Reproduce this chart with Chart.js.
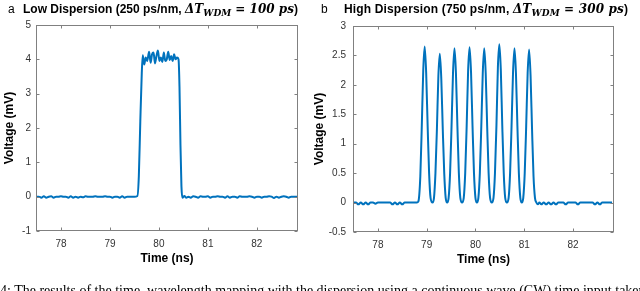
<!DOCTYPE html>
<html><head><meta charset="utf-8">
<script src="https://cdn.jsdelivr.net/npm/chart.js@4/dist/chart.umd.min.js"></script>
<style>
html,body{margin:0;padding:0;background:#fff;width:640px;height:291px;overflow:hidden;position:relative;}
canvas{position:absolute;top:0;}
.ttl{position:absolute;top:1px;white-space:nowrap;color:#000;font-family:"Liberation Sans",Arial,sans-serif;font-size:12px;line-height:16px;}
.ttl b{font-weight:bold;}
.ttl .m{font-family:"DejaVu Serif","Liberation Serif",serif;font-style:italic;font-weight:bold;font-size:12px;}
.ttl sub{font-size:9px;vertical-align:-3px;line-height:0;}
.cap{position:absolute;left:0;top:283px;white-space:nowrap;font-family:"Liberation Serif",serif;font-size:14px;color:#000;}
</style>
</head><body>
<canvas id="ca" width="320" height="291" style="left:0"></canvas>
<canvas id="cb" width="330" height="291" style="left:310px"></canvas>
<div class="ttl" style="left:8px"><span>a</span></div>
<div class="ttl" style="left:23px"><b>Low Dispersion (250 ps/nm, </b><span class="m">ΔT<sub>WDM</sub> = 100 ps</span><b>)</b></div>
<div class="ttl" style="left:321px"><span>b</span></div>
<div class="ttl" style="left:344px;letter-spacing:0.15px"><b>High Dispersion (750 ps/nm, </b><span class="m">ΔT<sub>WDM</sub> = 300 ps</span><b>)</b></div>
<div class="cap">4: The results of the time–wavelength mapping with the dispersion using a continuous wave (CW) time input taken at the different dispersion</div>
<script>
// ---- Panel a: Low dispersion ----
const timeA = [77.49,77.55,77.6,77.65,77.7,77.75,77.8,77.85,77.9,77.95,78.0,78.05,78.1,78.15,78.2,78.25,78.3,78.35,78.4,78.45,78.5,78.55,78.6,78.65,78.7,78.75,78.8,78.85,78.9,78.95,79.0,79.05,79.1,79.15,79.2,79.25,79.3,79.35,79.4,79.45,79.5,79.56,
 79.59,79.62,79.65,79.67,79.70,79.73,79.76,79.80,79.83,79.86,79.89,79.92,79.95,79.98,80.01,80.04,80.07,80.10,80.13,80.16,80.19,80.22,80.25,80.28,80.31,80.34,80.37,80.40,80.42,80.44,80.46,
 80.48,80.52,80.56,80.6,80.65,80.7,80.75,80.8,80.85,80.9,80.95,81.0,81.05,81.1,81.15,81.2,81.25,81.3,81.35,81.4,81.45,81.5,81.55,81.6,81.65,81.7,81.75,81.8,81.85,81.9,81.95,82.0,82.05,82.1,82.15,82.2,82.25,82.3,82.35,82.4,82.45,82.5,82.55,82.6,82.65,82.7,82.75,82.84];
const voltA = [0,0,-0.03,0.01,-0.03,0,0.01,-0.03,0,0,0.01,0,0,-0.03,0.01,-0.03,0,-0.03,0,-0.02,0.01,0,0,0,0.01,0,0,0,0.01,0,0,-0.03,0,0,-0.03,0.01,-0.03,0,0,0,0,0.02,
 0.6,2.2,3.6,4.12,3.85,4.05,3.95,4.22,3.9,4.15,4.2,3.88,4.1,4.26,3.95,4.05,3.92,4.2,3.95,4.0,4.22,3.98,4.1,3.95,4.15,4.0,4.05,4.0,3.2,1.5,0.3,
 -0.03,0.02,-0.03,0,-0.03,0.01,0,-0.03,0.01,0,0,0.01,-0.03,0,0,0.01,0,0,-0.03,0.01,-0.03,0,0,-0.03,0.01,0,0,0,0.01,0,-0.03,0,0,-0.03,0,0,0.01,0,-0.04,0,-0.03,0,0.01,0,-0.03,0,0,0];
const yTicksA = [-1,0,1,2,3,4,5];

// ---- Panel b: High dispersion ----
const timeB = [77.49,77.55,77.6,77.65,77.7,77.75,77.8,77.85,77.9,77.95,78.0,78.05,78.1,78.15,78.2,78.25,78.3,78.35,78.4,78.45,78.5,78.55,78.6,78.65,78.7,78.75,78.8,78.83,
 78.87,78.90,78.93,78.96,78.99,79.02,79.05,79.08,79.12,
 79.15,79.18,79.21,79.24,79.27,79.30,79.33,79.36,79.39,79.42,
 79.45,79.48,79.51,79.54,79.57,79.60,79.63,79.66,79.69,79.725,
 79.76,79.79,79.82,79.85,79.88,79.91,79.94,79.97,80.00,80.03,
 80.06,80.09,80.12,80.15,80.18,80.21,80.24,80.27,80.30,80.335,
 80.37,80.40,80.43,80.46,80.49,80.52,80.55,80.58,80.61,80.645,
 80.68,80.71,80.74,80.77,80.80,80.83,80.86,80.89,80.92,80.95,
 80.98,81.01,81.04,81.07,81.10,81.13,81.16,81.19,81.22,81.25,
 81.28,81.31,81.35,81.4,81.45,81.5,81.55,81.6,81.65,81.7,81.75,81.8,81.85,81.9,81.95,82.0,82.05,82.1,82.15,82.2,82.25,82.3,82.35,82.4,82.45,82.5,82.55,82.6,82.65,82.7,82.75,82.8];
const voltB = [0,0,-0.03,0,-0.03,0,-0.03,0,0,-0.02,0,0,0,0,0,0,-0.03,0,-0.03,0,-0.03,0,0,0,0,0,0,0.02,
 0.45,1.3,2.25,2.65,2.2,1.3,0.5,0.08,0.0,
 0.08,0.5,1.25,2.15,2.53,2.1,1.25,0.5,0.08,0.0,
 0.08,0.5,1.3,2.2,2.62,2.2,1.3,0.5,0.08,0.0,
 0.08,0.5,1.3,2.25,2.64,2.2,1.3,0.5,0.08,0.0,
 0.08,0.5,1.3,2.2,2.62,2.2,1.3,0.5,0.08,0.0,
 0.08,0.5,1.3,2.3,2.69,2.25,1.3,0.5,0.08,0.0,
 0.08,0.5,1.3,2.2,2.62,2.2,1.3,0.5,0.08,0.0,
 0.08,0.5,1.3,2.2,2.60,2.15,1.25,0.45,0.08,0.0,
 -0.03,0,-0.03,0,-0.03,0,-0.03,0,-0.03,0,0,0,-0.03,0,0,0,0,-0.03,0,0,0,0,0,0,-0.03,0,-0.03,0,0,0,0,0];
const yTicksB = [-0.5,0,0.5,1,1.5,2,2.5,3];
const xTicks = [78,79,80,81,82];

const BLUE = 'rgb(0,114,189)';
const frameTicks = {
  id:'frameTicks',
  afterDatasetsDraw(chart){
    const {ctx, chartArea:a, scales:{x,y}} = chart;
    const L=Math.round(a.left)+0.5, R=Math.round(a.right)-0.5, T=Math.round(a.top)+0.5, B=Math.round(a.bottom)-0.5;
    ctx.save();
    ctx.strokeStyle='#808080'; ctx.lineWidth=1;
    ctx.strokeRect(L,T,R-L,B-T);
    ctx.beginPath();
    x.ticks.forEach(t=>{const p=Math.round(x.getPixelForValue(t.value))+0.5; ctx.moveTo(p,B); ctx.lineTo(p,B-3); ctx.moveTo(p,T); ctx.lineTo(p,T+3);});
    y.ticks.forEach(t=>{const p=Math.round(y.getPixelForValue(t.value))+0.5; ctx.moveTo(L,p); ctx.lineTo(L+3,p); ctx.moveTo(R,p); ctx.lineTo(R-3,p);});
    ctx.stroke();
    ctx.restore();
  }
};

function makeChart(id, tx, vy, yt, yw, ypad, pad){
  const pts = tx.map((t,i)=>({x:t,y:vy[i]}));
  return new Chart(document.getElementById(id), {
    type:'line',
    data:{datasets:[{data:pts, borderColor:BLUE, borderWidth:2, pointRadius:0, cubicInterpolationMode:'monotone', fill:false}]},
    options:{
      responsive:false, animation:false, devicePixelRatio:1,
      layout:{padding:pad},
      plugins:{legend:{display:false}, tooltip:{enabled:false}},
      scales:{
        x:{type:'linear', min:77.49, max:82.84,
           afterBuildTicks(s){ s.ticks = xTicks.map(v=>({value:v})); },
           afterFit(s){ s.height = 36; },
           grid:{display:false, drawTicks:false}, border:{display:false},
           ticks:{padding:7, color:'#333', font:{family:'Liberation Sans', size:10}, callback:v=>String(v)},
           title:{display:true, text:'Time (ns)', color:'#000', font:{family:'Liberation Sans', size:12, weight:'bold'}, padding:{top:0,bottom:1}}},
        y:{type:'linear', min:yt[0], max:yt[yt.length-1],
           afterBuildTicks(s){ s.ticks = yt.map(v=>({value:v})); },
           afterFit(s){ s.width = yw; },
           grid:{display:false, drawTicks:false}, border:{display:false},
           ticks:{padding:ypad, color:'#333', font:{family:'Liberation Sans', size:10}, callback:v=>String(v)},
           title:{display:true, text:'Voltage (mV)', color:'#000', font:{family:'Liberation Sans', size:12, weight:'bold'}, padding:{top:2,bottom:2}}}
      }
    },
    plugins:[frameTicks]
  });
}
makeChart('ca', timeA, voltA, yTicksA, 36, 5, {top:25, right:22, bottom:24, left:0});
makeChart('cb', timeB, voltB, yTicksB, 43, 7, {top:26, right:26, bottom:23, left:0});
</script>
</body></html>
